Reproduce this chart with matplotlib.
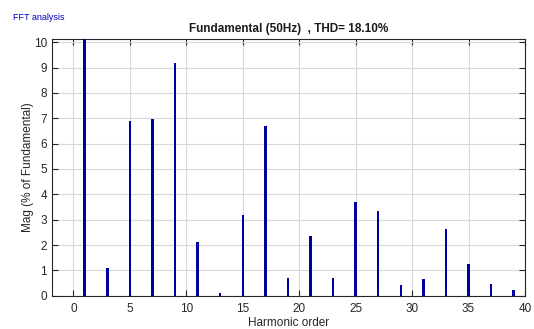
import numpy as np
import matplotlib as mpl
mpl.use("Agg")
import matplotlib.pyplot as plt

mpl.rcParams.update({"font.family": ["Liberation Sans", "DejaVu Sans"], "font.size": 8})

harmonics = np.arange(0, 40)
odd_mag = {1: 100.0, 3: 1.09, 5: 6.9, 7: 6.97, 9: 9.2, 11: 2.12, 13: 0.1, 15: 3.19,
           17: 6.68, 19: 0.7, 21: 2.37, 23: 0.7, 25: 3.68, 27: 3.35, 29: 0.42,
           31: 0.66, 33: 2.63, 35: 1.25, 37: 0.46, 39: 0.23}
mag = np.array([odd_mag.get(h, 0.0) for h in harmonics])
thd = 18.10

fig = plt.figure(figsize=(5.34, 3.29), dpi=100)
fig.patch.set_facecolor("white")
ax = fig.add_axes([52 / 534, 33.3 / 329, (525 - 52) / 534, (295.7 - 39) / 329])
ax.bar(harmonics, mag, width=0.22, color="#0000A0", zorder=3)
ax.set_xlim(-1.9, 40)
ax.set_ylim(0, 10.13)
ax.set_xticks(np.arange(0, 41, 5))
ax.set_yticks(np.arange(0, 11, 1))
ax.grid(True, color="#d9d9d9", lw=0.8, zorder=0)
ax.tick_params(direction="in", top=True, right=True, length=4, color="#262626",
               labelcolor="#262626", labelsize=8.5)
ax.tick_params(axis="x", pad=5)
for s in ax.spines.values():
    s.set_color("#262626")
    s.set_linewidth(0.8)
ax.set_xlabel("Harmonic order", fontsize=8.5, color="#262626", labelpad=1.5)
ax.set_ylabel("Mag (% of Fundamental)", fontsize=8.5, color="#262626", labelpad=0)
ax.set_title(f"Fundamental (50Hz)  , THD= {thd:.2f}%", fontsize=8.5, fontweight="bold",
             color="#1a1a1a", pad=5)
fig.text(13 / 534, 1 - 17 / 329, "FFT analysis", color="#0000c0", fontsize=6.5, va="center")

fig.savefig("out.png", dpi=100)
